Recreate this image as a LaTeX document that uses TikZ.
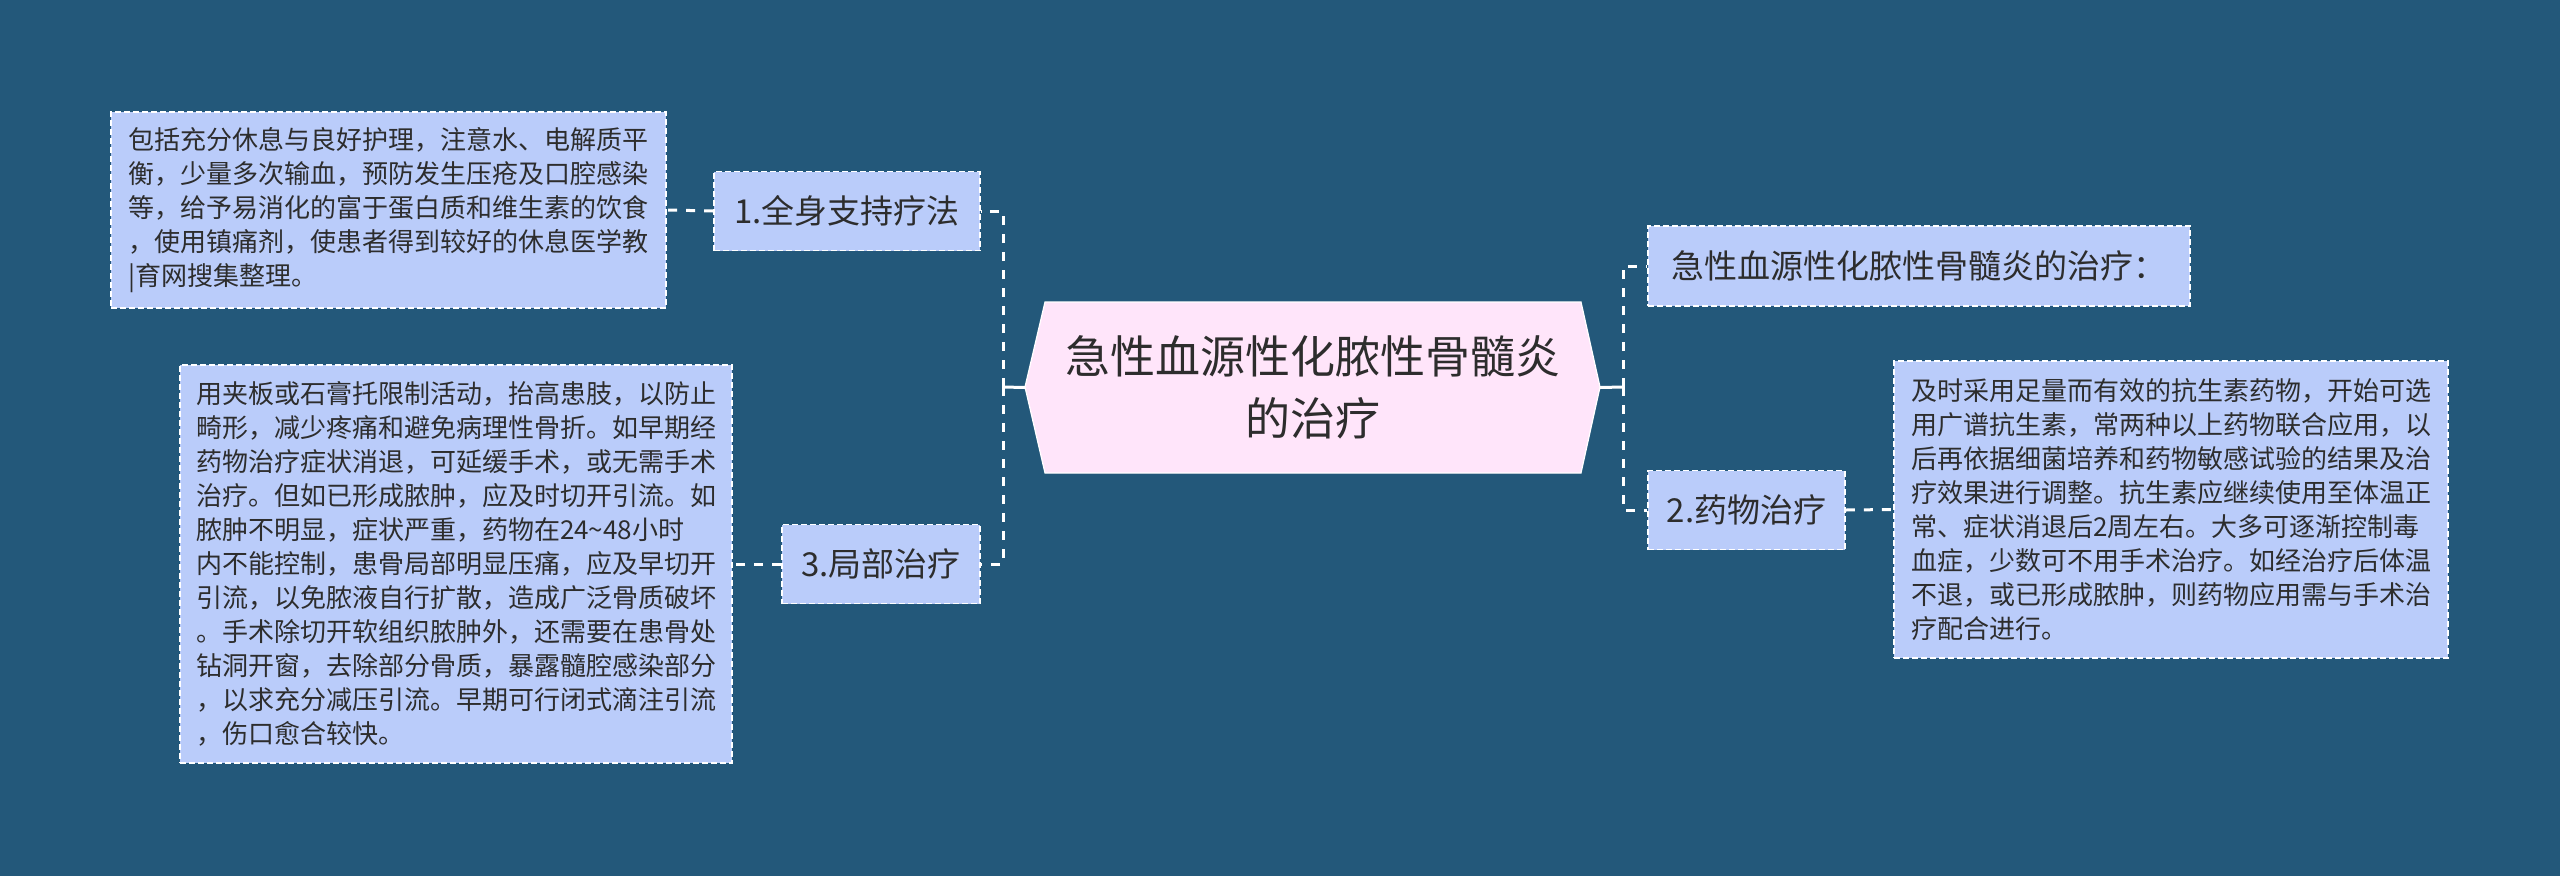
\documentclass[tikz,border=0pt]{standalone}
\usepackage{fontspec}
\setmainfont{Noto Sans CJK SC}
\usepackage{tikz}
\usetikzlibrary{arrows}
\usepackage{xcolor}
\definecolor{bgblue}{RGB}{35,88,122}
\definecolor{boxblue}{RGB}{186,204,250}
\definecolor{rootpink}{RGB}{255,229,250}
\definecolor{inkgray}{RGB}{45,45,45}

\begin{document}
\begin{tikzpicture}[x=1pt,y=-1pt,
  leaf/.style={fill=boxblue, draw=white, line width=1.6pt, dash pattern=on 6pt off 3pt, text=inkgray, inner sep=0pt, align=left, font=\fontsize{26}{34}\selectfont},
  topic/.style={fill=boxblue, draw=white, line width=1.6pt, dash pattern=on 6pt off 3pt, text=inkgray, inner sep=0pt, font=\fontsize{33}{40}\selectfont},
  link/.style={draw=white, line width=3pt, dash pattern=on 9pt off 9pt},
  stem/.style={draw=white, line width=3pt}]
%%%BACKGROUND
\useasboundingbox (0,0) rectangle (2560,876);
\fill[bgblue] (0,0) rectangle (2560,876);
%%%ROOT
\filldraw[fill=rootpink, draw=white, line width=1.2pt] (1025,387) -- (1045,302) -- (1581,302) -- (1600,387) -- (1581,473) -- (1045,473) -- cycle;
\node[text=inkgray, align=center, minimum width=575pt, minimum height=171pt, inner sep=0pt, font=\fontsize{45}{62}\selectfont] (root) at (1312.5,387.5) {急性血源性化脓性骨髓炎\\的治疗};
%%%TOPICS
\node[topic, minimum width=266pt, minimum height=79pt] (b1) at (847,211) {1.全身支持疗法};
\node[topic, minimum width=198pt, minimum height=79pt] (b3) at (881,564) {3.局部治疗};
\node[topic, minimum width=542pt, minimum height=80pt] (rt) at (1919,266) {急性血源性化脓性骨髓炎的治疗：};
\node[topic, minimum width=197pt, minimum height=79pt] (b2) at (1746.5,510) {2.药物治疗};
%%%DETAILS
\node[leaf, minimum width=555pt, minimum height=196pt] (d1) at (388.5,210) {包括充分休息与良好护理，注意水、电解质平\\衡，少量多次输血，预防发生压疮及口腔感染\\等，给予易消化的富于蛋白质和维生素的饮食\\，使用镇痛剂，使患者得到较好的休息医学教\\\textbar 育网搜集整理。};
\node[leaf, minimum width=552pt, minimum height=398pt] (d3) at (456,564) {用夹板或石膏托限制活动，抬高患肢，以防止\\畸形，减少疼痛和避免病理性骨折。如早期经\\药物治疗症状消退，可延缓手术，或无需手术\\治疗。但如已形成脓肿，应及时切开引流。如\\脓肿不明显，症状严重，药物在24\textasciitilde 48小时\\内不能控制，患骨局部明显压痛，应及早切开\\引流，以免脓液自行扩散，造成广泛骨质破坏\\。手术除切开软组织脓肿外，还需要在患骨处\\钻洞开窗，去除部分骨质，暴露髓腔感染部分\\，以求充分减压引流。早期可行闭式滴注引流\\，伤口愈合较快。};
\node[leaf, minimum width=554pt, minimum height=297pt] (d2) at (2171,509.5) {及时采用足量而有效的抗生素药物，开始可选\\用广谱抗生素，常两种以上药物联合应用，以\\后再依据细菌培养和药物敏感试验的结果及治\\疗效果进行调整。抗生素应继续使用至体温正\\常、症状消退后2周左右。大多可逐渐控制毒\\血症，少数可不用手术治疗。如经治疗后体温\\不退，或已形成脓肿，则药物应用需与手术治\\疗配合进行。};
%%%CONNECTORS
\coordinate (lfork) at (1003,387);
\coordinate (rfork) at (1623,387);
\draw[stem] (root.west) -- (lfork);
\draw[link] (lfork) |- (b1.east);
\draw[link] (lfork) |- (b3.east);
\draw[stem] (root.east) -- (rfork);
\draw[link] (rfork) |- (rt.west);
\draw[link] (rfork) |- (b2.west);
\draw[link] (b1.west) -- (d1.east);
\draw[link] (b3.west) -- (d3.east);
\draw[link] (b2.east) -- (d2.west);
\end{tikzpicture}
\end{document}
